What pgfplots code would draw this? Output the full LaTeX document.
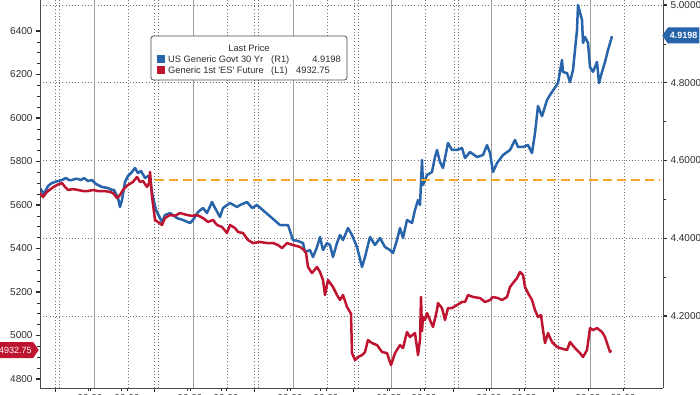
\documentclass[border=0pt]{standalone}
\usepackage{pgfplots}
\pgfplotsset{compat=1.18}
\usepackage{fontspec}
\setmainfont{Liberation Sans}
\usetikzlibrary{shapes.symbols}
\definecolor{bblue}{RGB}{40,100,170}
\definecolor{bred}{RGB}{190,20,48}
\definecolor{borange}{RGB}{246,166,40}
\definecolor{txt}{RGB}{45,45,45}
\definecolor{gridc}{RGB}{110,110,110}

\pgfplotstableread{
x v
40 4.5293
44 4.5139
48 4.5345
52 4.5422
58 4.5473
62 4.5499
66 4.5550
69 4.5499
72 4.5499
75 4.5525
78 4.5525
81 4.5499
84 4.5550
88 4.5473
92 4.5499
96 4.5396
102 4.5319
108 4.5293
112 4.5242
114 4.5242
118 4.5036
120 4.4804
122 4.4984
125 4.5447
128 4.5602
132 4.5705
135 4.5808
138 4.5679
141 4.5730
145 4.5550
148 4.5602
150 4.5550
152 4.5164
156 4.4727
162 4.4418
165 4.4599
170 4.4650
177 4.4521
183 4.4470
190 4.4393
193 4.4470
198 4.4676
203 4.4779
207 4.4650
212 4.4933
215 4.4779
220 4.4547
223 4.4779
230 4.4907
237 4.4804
240 4.4856
247 4.4933
252 4.4779
257 4.4856
265 4.4676
272 4.4521
280 4.4341
288 4.4341
293 4.3955
298 4.3930
303 4.3878
305 4.3647
310 4.3698
313 4.3518
317 4.3775
320 4.4033
323 4.3698
327 4.3878
330 4.3827
333 4.3518
337 4.3878
340 4.4084
343 4.3955
348 4.4264
352 4.4084
357 4.3775
362 4.3261
365 4.3518
370 4.4033
375 4.3827
380 4.4007
385 4.3775
390 4.3698
393 4.3621
397 4.3955
400 4.4264
403 4.4007
407 4.4470
412 4.4393
415 4.4727
418 4.4984
420 4.4856
422 4.6013
423 4.5370
427 4.5627
432 4.5705
435 4.6090
437 4.6271
440 4.5962
443 4.5808
448 4.6451
452 4.6271
457 4.6271
462 4.6322
465 4.6065
470 4.6219
477 4.6090
483 4.6142
487 4.6399
490 4.6193
493 4.5705
497 4.5936
503 4.6142
510 4.6271
515 4.6528
518 4.6348
523 4.6348
528 4.6399
532 4.6193
535 4.6708
537 4.7171
538 4.7400
542 4.7140
547 4.7557
550 4.7685
558 4.7994
562 4.8585
563 4.8275
567 4.8250
570 4.8020
573 4.8330
577 4.9360
578 5.0000
582 4.9615
583 4.9025
585 4.9180
588 4.9025
590 4.8405
593 4.8280
597 4.8535
599 4.7994
602 4.8280
605 4.8535
608 4.8843
612 4.9198
}\bluedata

\pgfplotstableread{
x v
40 5655
43 5637
47 5660
52 5678
57 5692
62 5701
65 5683
68 5669
73 5673
78 5669
83 5664
88 5664
93 5669
98 5664
105 5664
110 5660
113 5655
117 5632
120 5646
123 5669
128 5692
133 5706
137 5729
140 5706
143 5710
147 5683
149 5700
150 5752
152 5640
155 5531
158 5522
162 5508
165 5540
170 5554
175 5550
180 5563
187 5554
192 5550
197 5554
203 5540
208 5522
213 5531
217 5508
222 5499
227 5471
230 5508
235 5494
238 5476
243 5471
248 5439
253 5425
260 5430
267 5425
273 5425
278 5416
282 5402
287 5425
293 5416
300 5407
304 5393
306 5380
308 5315
312 5287
317 5315
320 5292
323 5255
325 5186
328 5255
333 5223
337 5186
340 5163
343 5186
347 5131
350 5108
351 5100
352 4919
355 4887
358 4901
362 4910
365 4924
368 4979
372 4965
377 4956
382 4924
387 4919
391 4864
395 4919
400 4956
403 4942
407 5016
410 4993
415 5011
418 4910
420 4980
421 5177
422 5020
423 5085
425 5071
427 5103
430 5071
433 5039
437 5117
438 5149
442 5126
445 5071
448 5126
452 5126
457 5140
462 5154
465 5154
468 5186
473 5177
480 5172
485 5154
490 5163
493 5177
498 5172
502 5163
507 5177
510 5223
513 5241
517 5264
520 5292
523 5278
525 5223
528 5195
532 5163
535 5117
538 5085
541 5094
543 5025
545 4965
548 5011
552 4970
557 4947
560 4942
567 4933
570 4970
575 4942
580 4919
583 4901
587 4933
590 5034
593 5025
597 5034
602 5016
605 4993
607 4965
610 4924
611 4932.75
}\reddata

\begin{document}
\begin{tikzpicture}[x=1pt,y=1pt]
\pgfplotsset{
 common/.style={
  at={(40pt,6pt)}, anchor=south west, scale only axis,
  width=623pt, height=388pt,
  xmin=40, xmax=663,
  /pgf/number format/assume math mode=true,
  tick label style={font=\fontsize{10}{11}\selectfont, text=txt},
  axis line style={draw=txt!85, line width=0.7pt, -},
  tick style={draw=txt, line width=0.7pt},
  tick align=outside,
  clip=true,
 }
}
% ---------- right axis: US 30Y yield ----------
\begin{axis}[common,
  axis y line*=right, axis x line*=bottom,
  ymin=4.0149, ymax=5.0129,
  ytick={4.2,4.4,4.6,4.8,5.0}, minor y tick num=1,
  yticklabel={\pgfmathprintnumber[fixed,fixed zerofill,precision=4]{\tick}},
  ymajorgrids, major grid style={draw=gridc, dash pattern=on 1pt off 2.2pt, line width=0.7pt},
  major y tick style={line width=1.2pt},
  major tick length=4pt, minor tick length=2.5pt,
  xtick={55,154.6,254.2,353.8,453.4,553},
  xticklabels={},
  major x tick style={line width=0.9pt},
  extra x ticks={90,127,190,226,290,326,389,424,489,524,588,623},
  extra x tick labels={00:00,00:00,00:00,00:00,00:00,00:00,00:00,00:00,00:00,00:00,00:00,00:00},
  extra x tick style={grid=none, tick style={line width=0.5pt}, major tick length=2.5pt},
  minor x tick num=2,
]
\pgfplotsinvokeforeach{94,193,293,391,491,590}{
  \draw[gray!75, line width=0.9pt] (axis cs:#1,4.0149) -- (axis cs:#1,5.0129);}
\pgfplotsinvokeforeach{55,59,128,154,158,227,254,258,327,354,358,425,454,458,525,554,558,624}{
  \draw[gridc, dash pattern=on 1pt off 2.2pt, line width=0.7pt] (axis cs:#1,4.0149) -- (axis cs:#1,5.0129);}
\addplot[bblue, line width=2.5pt, line join=round] table[x=x,y=v] {\bluedata};
\addplot[borange, line width=2.8pt, dash pattern=on 9pt off 5pt] coordinates {(155,4.5499) (660,4.5499)};
\end{axis}
% ---------- left axis: ES future ----------
\begin{axis}[common,
  axis y line*=left, hide x axis,
  ymin=4758.5, ymax=6542.5,
  ytick={4800,5000,5200,5400,5600,5800,6000,6200,6400}, minor y tick num=3,
  /pgf/number format/set thousands separator={},
  major y tick style={line width=1.4pt},
  major tick length=4pt, minor tick length=2.5pt,
]
\addplot[bred, line width=2.5pt, line join=round] table[x=x,y=v] {\reddata};
\end{axis}
% ---------- legend ----------
\draw[txt!85, line width=0.8pt, rounded corners=2.5pt, fill=white] (151,314) rectangle (347,358);
\begin{scope}[every node/.style={font=\fontsize{9.3}{11}\selectfont, text=txt, inner sep=0pt}]
\node at (249,346) {Last Price};
\fill[bblue] (157,331) rectangle (165,339);
\node[anchor=base west] at (168,331.5) {US Generic Govt 30 Yr};
\node[anchor=base west] at (271,331.5) {(R1)};
\node[anchor=base east] at (341,331.5) {4.9198};
\fill[bred] (157,320) rectangle (165,328);
\node[anchor=base west] at (168,320.5) {Generic 1st \textquotesingle ES\textquotesingle\ Future};
\node[anchor=base west] at (271,320.5) {(L1)};
\node[anchor=base west] at (296,320.5) {4932.75};
\end{scope}
% ---------- last value tags ----------
\node[signal, signal to=west, signal pointer angle=110, fill=bblue, text=white,
  font=\fontsize{9}{10}\selectfont\bfseries, inner xsep=2pt, inner ysep=3pt,
  minimum height=16pt, anchor=west] at (662,358.5) {4.9198};
\node[signal, signal to=east, signal pointer angle=110, fill=bred, text=white,
  font=\fontsize{9}{10}\selectfont, inner xsep=1.5pt, inner ysep=3pt,
  minimum height=16pt, anchor=east] at (39,44) {4932.75};
\pgfresetboundingbox
\useasboundingbox (0,0) rectangle (700,394);
\end{tikzpicture}
\end{document}
